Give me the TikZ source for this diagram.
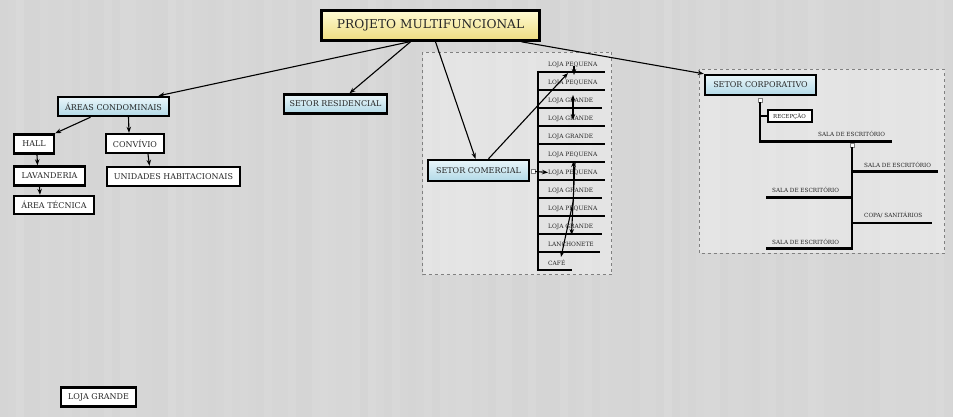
\documentclass[tikz,border=0pt]{standalone}
\usepackage{fontspec}
\setmainfont{DejaVu Serif}
\usepackage{xcolor,tikz}
\usetikzlibrary{calc,positioning,shadings}
\usetikzlibrary{arrows.meta}
\tikzset{>={Stealth[length=6pt,width=4.5pt]}}
\definecolor{bgwood}{RGB}{213,213,213}
\definecolor{txtgray}{RGB}{38,38,38}
\definecolor{yeltop}{RGB}{255,251,212}
\definecolor{yelbot}{RGB}{238,221,128}
\definecolor{bluetop}{RGB}{234,246,250}
\definecolor{bluebot}{RGB}{178,217,231}
\tikzset{
  mainbox/.style={draw=black,line width=2.6pt,top color=yeltop,bottom color=yelbot,
    minimum width=218pt,minimum height=30pt,inner sep=0pt,text=txtgray,font=\fontsize{12.2}{14}\selectfont},
  secbox/.style={draw=black,line width=2.4pt,top color=bluetop,bottom color=bluebot,
    minimum height=19pt,inner sep=0pt,text=txtgray,font=\fontsize{8}{9}\selectfont},
  leafbox/.style={draw=black,line width=2.4pt,fill=white,
    minimum height=19pt,inner sep=0pt,text=txtgray,font=\fontsize{8}{9}\selectfont},
  itemtxt/.style={anchor=west,inner sep=0pt,text=txtgray,font=\fontsize{5.9}{6}\selectfont},
  salatxt/.style={itemtxt,font=\fontsize{5.7}{6}\selectfont},
  branch/.style={line width=2.6pt,black},
  link/.style={->,line width=1.1pt,black},
  knob/.style={draw=gray,fill=white,line width=0.4pt,minimum size=4pt,inner sep=0pt},
  groupbox/.style={draw=gray,dashed,line width=0.9pt,fill=white,fill opacity=0.35}
}
\begin{document}
\begin{tikzpicture}[x=1pt,y=-1pt]
\useasboundingbox (0,0) rectangle (953,417);
\fill[bgwood] (0,0) rectangle (953,417);
\pgfmathsetseed{11}
\foreach \x in {0,8,...,944}{
\pgfmathsetmacro\g{random(0,9)*0.012}
\fill[white,opacity=\g] (\x,0) rectangle +(8,417);
}
\draw[groupbox] (422.5,52.5) rectangle (611.5,274.5);
\draw[groupbox] (699,69.5) rectangle (944.5,253);

\node[mainbox] (proj) at (430.5,25.5) {PROJETO MULTIFUNCIONAL};
\node[secbox,minimum width=111pt] (areas) at (113.5,106.5) {ÁREAS CONDOMINAIS};
\node[secbox,minimum width=103pt] (resid) at (335.5,104) {SETOR RESIDENCIAL};
\node[secbox,minimum width=101pt,minimum height=21pt] (comer) at (478.5,170.5) {SETOR COMERCIAL};
\node[secbox,minimum width=111pt,minimum height=20pt] (corp) at (760.5,85) {SETOR CORPORATIVO};
\node[leafbox,minimum width=40pt] (hall) at (34,144) {HALL};
\node[leafbox,minimum width=58pt] (conv) at (135,143.5) {CONVÍVIO};
\node[leafbox,minimum width=71pt] (lav) at (49.5,176) {LAVANDERIA};
\node[leafbox,minimum width=133pt] (unid) at (173.5,176.5) {UNIDADES HABITACIONAIS};
\node[leafbox,minimum width=80pt,minimum height=18pt] (tec) at (54,205) {ÁREA TÉCNICA};
\node[leafbox,minimum width=75pt] (loja) at (98.5,397) {LOJA GRANDE};

\draw[link] ([xshift=-21pt]proj.south) -- ([xshift=45pt]areas.north);
\draw[link] ([xshift=-20pt]proj.south) -- ([xshift=14pt]resid.north);
\draw[link] ([xshift=5pt]proj.south) -- ([xshift=-3pt]comer.north);
\draw[link] ([xshift=91pt]proj.south) -- (corp.north west);
\draw[link] ([xshift=-23pt]areas.south) -- (hall.north east);
\draw[link] ([xshift=15pt]areas.south) -- ([xshift=-6pt]conv.north);
\draw[link] ([xshift=3pt]hall.south) -- ([xshift=-12pt]lav.north);
\draw[link] ([xshift=13pt]conv.south) -- ([xshift=-24pt]unid.north);
\draw[link] ([xshift=-10pt]lav.south) -- ([xshift=-14pt]tec.north);

\draw[branch] (538,70.7) -- (538,271.3);
\foreach \txt/\xe [count=\i] in {LOJA PEQUENA/605,LOJA PEQUENA/605,LOJA GRANDE/602,LOJA GRANDE/605,
  LOJA GRANDE/605,LOJA PEQUENA/605,LOJA PEQUENA/605,LOJA GRANDE/602,LOJA PEQUENA/605,
  LOJA GRANDE/602,LANCHONETE/600,CAFÉ/572}{
\coordinate (l\i) at (538,{72+18*(\i-1)});
\draw[branch] (l\i) -- (\xe,{72+18*(\i-1)});
\node[itemtxt] (c\i) at ($(l\i)+(10,-7.5)$) {\txt};
}
\node[knob] (kc) at (533,171.5) {};
\draw[link] (kc.east) -- (c7.west);
\draw[link] ([xshift=10pt]comer.north) -- ($(l1)+(30,1)$);
\draw[link] ($(l1)+(36,-6)$) -- ($(l1)+(36,3)$);
\draw[<->,line width=1.1pt] ($(l2)+(35,5)$) -- ($(l3)+(35,12)$);
\draw[link] ($(l8)+(35.5,2)$) -- ($(l6)+(35.5,-1)$);
\draw[link] ($(l6)+(37,1)$) -- ($(l10)+(33.5,1)$);
\draw[link] ($(l8)+(35.5,2)$) -- ($(l11)+(23,5)$);

\node[knob] (k1) at (760,100) {};
\node[knob] (k2) at (852,145) {};
\node[leafbox,line width=2pt,minimum width=44pt,minimum height=12pt,font=\fontsize{5.5}{6}\selectfont] (recep) at (789.5,116) {RECEPÇÃO};
\draw[branch] (k1.south) |- (892,141.5);
\draw[branch] (k1 |- recep.west) -- (recep.west);
\node[salatxt] (s1) at (818,133.5) {SALA DE ESCRITÓRIO};
\draw[branch] (k2.south) -- (852,249.8);
\draw[branch] (852,171.5) -- (938,171.5);
\node[salatxt] (s2) at (864,164.5) {SALA DE ESCRITÓRIO};
\draw[branch] (766,197.5) -- (852,197.5);
\node[salatxt] (s3) at (772,190) {SALA DE ESCRITÓRIO};
\draw[branch] (852,223) -- (932,223);
\node[salatxt] (s4) at (864,215.5) {COPA/ SANITÁRIOS};
\draw[branch] (766,248.5) -- (852,248.5);
\node[salatxt] (s5) at (772,241.5) {SALA DE ESCRITÓRIO};
\end{tikzpicture}
\end{document}
